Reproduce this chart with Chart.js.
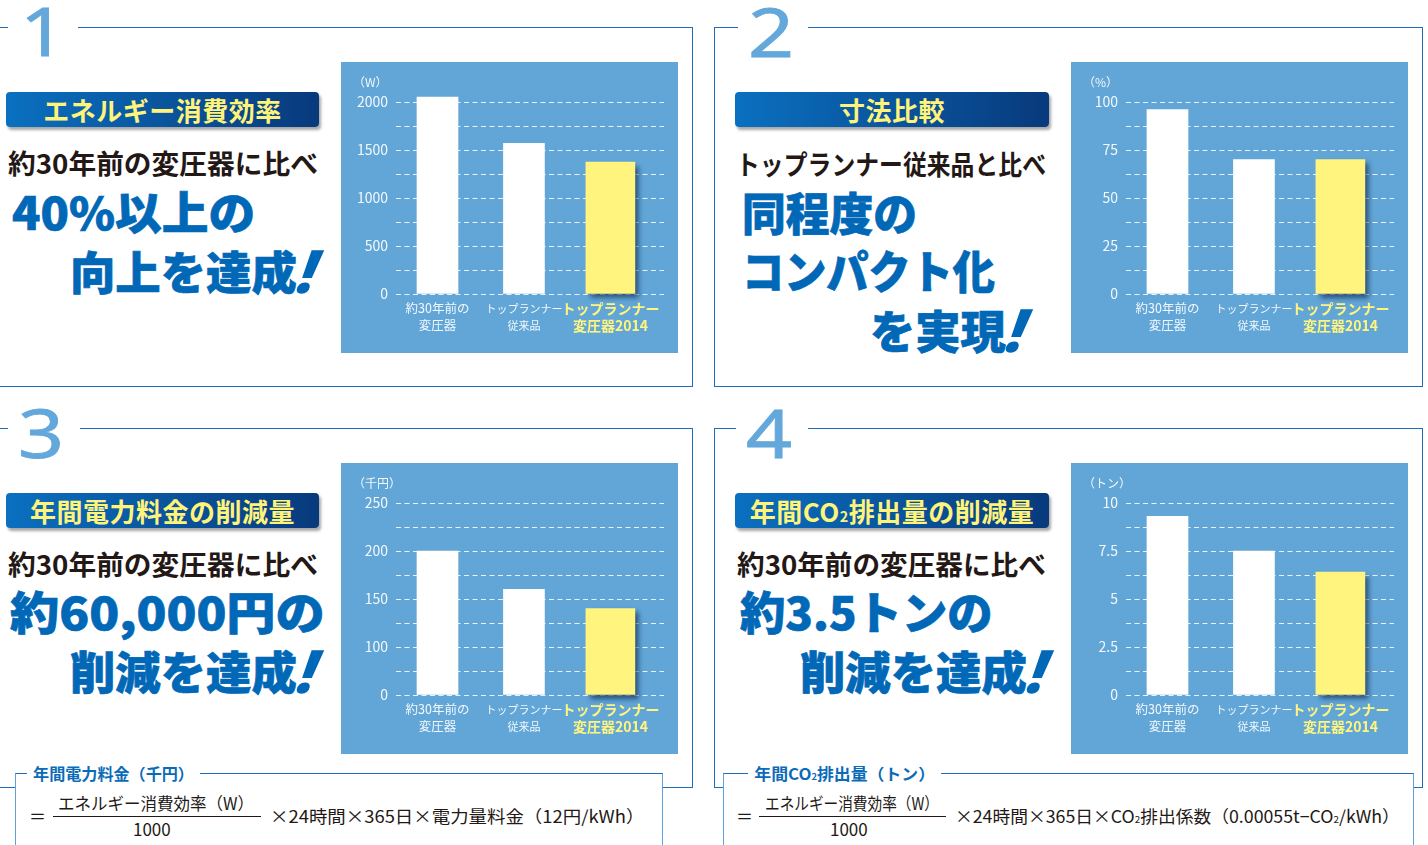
<!DOCTYPE html>
<html lang="ja">
<head>
<meta charset="utf-8">
<title>トップランナー変圧器2014</title>
<script src="https://cdn.jsdelivr.net/npm/chart.js@4.4.1/dist/chart.umd.min.js"></script>
<style>
  body { margin: 0; background: #fff; }
  #page { position: relative; width: 1428px; height: 845px; overflow: hidden; font-family: "Noto Sans CJK JP", sans-serif; color: #231815; }
  .frame { position: absolute; box-sizing: border-box; border: 1px solid #1f6cba; height: 360px; }
  .gap { position: absolute; background: #fff; height: 8px; }
  .num { position: absolute; font-family: "Noto Sans", sans-serif; font-size: 67px; line-height: 67px; color: #63a7db; transform: scaleX(1.2); transform-origin: 0 0; -webkit-text-stroke: 0.8px #63a7db; }
  .hdr { position: absolute; width: 313px; height: 35px; border-radius: 4px; background: linear-gradient(90deg, #0a70c0, #083a7c); box-shadow: 2px 3px 3px rgba(0,0,0,.35); color: #fff37a; font-weight: 700; font-size: 26px; line-height: 35px; text-align: center; letter-spacing: 0.5px; }
  .sub { position: absolute; font-weight: 700; font-size: 27px; line-height: 30px; white-space: nowrap; transform-origin: 0 0; }
  .big { position: absolute; font-weight: 900; font-size: 45px; line-height: 50px; color: #0068b7; white-space: nowrap; transform-origin: 0 0; -webkit-text-stroke: 0.7px #0068b7; }
  .bang { display: inline-block; font-family: "Noto Sans", sans-serif; font-style: italic; font-weight: 900; font-size: 60px; line-height: 50px; transform: skewX(-10deg); margin-left: 3px; vertical-align: -3px; -webkit-text-stroke: 0; }
  .s2 { font-size: 55%; }
  .chart { position: absolute; width: 337px; height: 291px; background: #62a6d7; }
  .box { position: absolute; box-sizing: border-box; border: 1px solid #5ea3da; border-top-color: #1f6cba; background: #fff; top: 773px; height: 120px; }
  .boxttl { position: absolute; top: -11px; background: #fff; color: #0a6bb8; font-weight: 700; font-size: 16px; line-height: 20px; padding: 0 6px; white-space: nowrap; transform-origin: 0 0; }
  .f { position: absolute; font-size: 17px; line-height: 20px; white-space: nowrap; transform-origin: 0 0; }
  .fl { position: absolute; height: 1px; background: #231815; top: 816px; }
</style>
</head>
<body>
<div id="page">
  <div class="frame" style="left:-2px; top:27px; width:695px;"></div>
  <div class="frame" style="left:714px; top:27px; width:709px;"></div>
  <div class="frame" style="left:-2px; top:428px; width:695px;"></div>
  <div class="frame" style="left:714px; top:428px; width:709px;"></div>

  <div class="gap" style="left:8px; top:23px; width:70px;"></div>
  <div class="gap" style="left:738px; top:23px; width:70px;"></div>
  <div class="gap" style="left:8px; top:424px; width:72px;"></div>
  <div class="gap" style="left:736px; top:424px; width:72px;"></div>
  <div class="num" style="left:20px; top:-3px;">1</div>
  <div class="num" style="left:748px; top:-2px;">2</div>
  <div class="num" style="left:18px; top:399px;">3</div>
  <div class="num" style="left:746px; top:399px;">4</div>

  <div class="hdr" style="left:6px; top:92px;">エネルギー消費効率</div>
  <div class="hdr" style="left:735px; top:92px; width:314px;">寸法比較</div>
  <div class="hdr" style="left:6px; top:493px;">年間電力料金の削減量</div>
  <div class="hdr" style="left:735px; top:493px; width:314px;">年間CO<span class="s2">2</span>排出量の削減量</div>

  <div class="sub" data-w="310" style="left:8px; top:148px;">約30年前の変圧器に比べ</div>
  <div class="sub" data-w="310" style="left:736px; top:149px;">トップランナー従来品と比べ</div>
  <div class="sub" data-w="310" style="left:8px; top:549px;">約30年前の変圧器に比べ</div>
  <div class="sub" data-w="309" style="left:737px; top:549px;">約30年前の変圧器に比べ</div>

  <div class="big" data-w="243" style="left:12px; top:186px;">40%以上の</div>
  <div class="big" data-w="248" style="left:70px; top:245px;">向上を達成<span class="bang">!</span></div>
  <div class="big" data-w="175" style="left:742px; top:187px;">同程度の</div>
  <div class="big" data-w="253" style="left:742px; top:245px;">コンパクト化</div>
  <div class="big" data-w="157" style="left:870px; top:304px;">を実現<span class="bang">!</span></div>
  <div class="big" data-w="315" style="left:10px; top:586px;">約60,000円の</div>
  <div class="big" data-w="248" style="left:70px; top:645px;">削減を達成<span class="bang">!</span></div>
  <div class="big" data-w="253" style="left:740px; top:586px;">約3.5トンの</div>
  <div class="big" data-w="248" style="left:800px; top:645px;">削減を達成<span class="bang">!</span></div>

  <div class="chart" style="left:341px; top:62px;"><canvas id="chartEfficiency" width="337" height="291"></canvas></div>
  <div class="chart" style="left:1071px; top:62px;"><canvas id="chartSize" width="337" height="291"></canvas></div>
  <div class="chart" style="left:341px; top:463px;"><canvas id="chartCost" width="337" height="291"></canvas></div>
  <div class="chart" style="left:1071px; top:463px;"><canvas id="chartCo2" width="337" height="291"></canvas></div>

  <div class="box" style="left:15px; width:648px;"><div class="boxttl" data-w="173" style="left:11px;">年間電力料金（千円）</div></div>
  <div class="box" style="left:723px; width:691px;"><div class="boxttl" data-w="193" style="left:24px;">年間CO<span class="s2">2</span>排出量（トン）</div></div>

  <div class="f" style="left:29px; top:806px;">＝</div>
  <div class="f" data-w="196" style="left:58px; top:793px;">エネルギー消費効率（W）</div>
  <div class="fl" style="left:53px; width:208px;"></div>
  <div class="f" style="left:133px; top:819px;">1000</div>
  <div class="f" data-w="374" style="left:270px; top:806px;">×24時間×365日×電力量料金（12円/kWh）</div>

  <div class="f" style="left:736px; top:806px;">＝</div>
  <div class="f" data-w="174" style="left:765px; top:793px;">エネルギー消費効率（W）</div>
  <div class="fl" style="left:759px; width:187px;"></div>
  <div class="f" style="left:830px; top:819px;">1000</div>
  <div class="f" data-w="445" style="left:955px; top:806px;">×24時間×365日×CO<span class="s2">2</span>排出係数（0.00055t−CO<span class="s2">2</span>/kWh）</div>
</div>

<script>
// categories shared by all four charts
const categories = [['約30年前の', '変圧器'], ['トップランナー', '従来品'], ['トップランナー', '変圧器2014']];

const efficiencyW = [2050, 1570, 1375];
const sizePercent = [96, 70, 70];
const costThousandYen = [200, 160, 140];
const co2Tons = [9.3, 7.5, 6.4];

const efficiencyTicks = [0, 500, 1000, 1500, 2000];
const sizeTicks = [0, 25, 50, 75, 100];
const costTicks = [0, 100, 150, 200, 250]; // axis is broken between 0 and 100
const co2Ticks = [0, 2.5, 5, 7.5, 10];

Chart.defaults.font.family = '"Noto Sans CJK JP", sans-serif';

// squeeze text lines to the widths measured on the original
document.querySelectorAll('[data-w]').forEach(el => {
  const w = +el.dataset.w;
  const cur = el.offsetWidth;
  if (cur > 0) el.style.transform = 'scaleX(' + (w / cur) + ')';
});

const barShadow = {
  id: 'barShadow',
  beforeDatasetDraw(chart, args) {
    if (args.index !== 1) return;
    const c = chart.ctx;
    c.save();
    c.shadowColor = 'rgba(10, 35, 75, 0.65)';
    c.shadowBlur = 5;
    c.shadowOffsetX = 4;
    c.shadowOffsetY = 4;
  },
  afterDatasetDraw(chart, args) {
    if (args.index === 1) chart.ctx.restore();
  }
};

function makeChart(id, unit, values, tickLabels, min, max, step) {
  const whiteBars = values.slice(0, 2).map((v, i) => ({ x: i, y: v }));
  const newBar = [{ x: 2, y: values[2] }];

  new Chart(document.getElementById(id), {
    type: 'bar',
    data: {
      datasets: [
        { data: whiteBars, backgroundColor: '#ffffff', barThickness: 41, stack: 'one', clip: false, base: min },
        { data: newBar, backgroundColor: '#fff57e', barThickness: 49, stack: 'one', clip: false, base: min }
      ]
    },
    plugins: [barShadow],
    options: {
      responsive: false,
      animation: false,
      layout: { padding: { left: 12, right: 14, top: 0, bottom: 0 } },
      plugins: {
        legend: { display: false },
        tooltip: { enabled: false },
        title: {
          display: true, text: unit, align: 'start',
          color: 'rgba(255,255,255,0.92)',
          font: { size: 12, weight: 'normal', lineHeight: 1.2 },
          padding: { top: 13, bottom: 12.6 }
        }
      },
      scales: {
        x: {
          type: 'linear', min: -0.48, max: 2.62, offset: false,
          grid: { display: false, drawTicks: false },
          border: { display: false },
          afterBuildTicks: axis => { axis.ticks = categories.map((c, i) => ({ value: i })); },
          afterFit: axis => { axis.height = 59; },
          ticks: {
            autoSkip: false, maxRotation: 0, minRotation: 0, padding: 6,
            callback: (v, i) => categories[i],
            color: c => c.index === 2 ? '#fff57e' : 'rgba(255,255,255,0.92)',
            font: c => c.index === 2 ? { size: 14, weight: 'bold', lineHeight: 1.2 }
              : { size: c.index === 1 ? 11 : 12.5, lineHeight: c.index === 1 ? 1.55 : 1.35 }
          }
        },
        y: {
          stacked: false, min: min, max: max,
          afterFit: axis => { axis.width = 43; },
          grid: { color: 'rgba(255,255,255,0.85)', lineWidth: 1, drawTicks: false },
          border: { display: false, dash: [5, 3.5] },
          ticks: {
            stepSize: step, padding: 8,
            color: 'rgba(255,255,255,0.92)',
            font: { size: 14 },
            callback: v => {
              if (v === min) return String(tickLabels[0]);
              return tickLabels.includes(v) ? String(v) : '';
            }
          }
        }
      }
    }
  });
}

makeChart('chartEfficiency', '（W）', efficiencyW, efficiencyTicks, 0, 2000, 250);
makeChart('chartSize', '（%）', sizePercent, sizeTicks, 0, 100, 12.5);
makeChart('chartCost', '（千円）', costThousandYen, costTicks, 50, 250, 25);
makeChart('chartCo2', '（トン）', co2Tons, co2Ticks, 0, 10, 1.25);
</script>
</body>
</html>
